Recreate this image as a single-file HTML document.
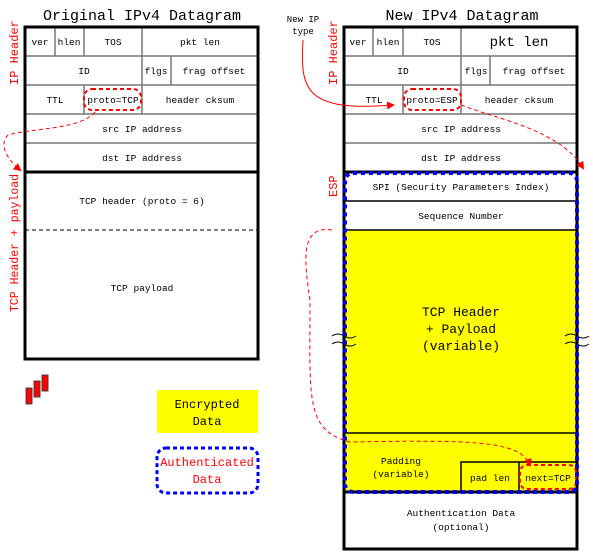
<!DOCTYPE html>
<html><head><style>body{margin:0;background:#fff}svg{display:block}text{font-family:"Liberation Mono","DejaVu Sans Mono",monospace;font-size:9.5px;fill:#000}</style></head><body>
<svg width="593" height="552" viewBox="0 0 593 552" xmlns="http://www.w3.org/2000/svg">
<defs><marker id="ar" markerWidth="8" markerHeight="8" refX="6" refY="4" orient="auto" markerUnits="userSpaceOnUse"><path d="M0,0 L8,4 L0,8 Z" fill="red"/></marker></defs>
<!-- LEFT -->
<text x="142" y="20" text-anchor="middle" style="font-size:15px">Original IPv4 Datagram</text>
<g stroke="#777" stroke-width="1.5" fill="none">
<line x1="25" y1="56" x2="258" y2="56"/><line x1="25" y1="85" x2="258" y2="85"/><line x1="25" y1="114" x2="258" y2="114"/><line x1="25" y1="143" x2="258" y2="143"/>
<line x1="55" y1="27" x2="55" y2="56"/><line x1="84" y1="27" x2="84" y2="56"/><line x1="142" y1="27" x2="142" y2="114"/><line x1="171" y1="56" x2="171" y2="85"/><line x1="84" y1="85" x2="84" y2="114"/>
</g>
<line x1="25" y1="230" x2="258" y2="230" stroke="#000" stroke-dasharray="4,3"/>
<rect x="25" y="27" width="233" height="332" fill="none" stroke="#000" stroke-width="3"/>
<line x1="25" y1="172" x2="258" y2="172" stroke="#000" stroke-width="3"/>
<g text-anchor="middle">
<text x="40" y="45">ver</text><text x="69" y="45">hlen</text><text x="113" y="45">TOS</text><text x="200" y="45">pkt len</text>
<text x="84" y="74">ID</text><text x="156" y="74">flgs</text><text x="214" y="74">frag offset</text>
<text x="55" y="103">TTL</text><text x="113" y="103">proto=TCP</text><text x="200" y="103">header cksum</text>
<text x="142" y="132">src IP address</text><text x="142" y="161">dst IP address</text>
<text x="142" y="204">TCP header (proto = 6)</text><text x="142" y="291">TCP payload</text>
</g>
<rect x="84" y="89" width="57" height="21" rx="8" fill="none" stroke="red" stroke-width="2" stroke-dasharray="4,3"/>
<text transform="translate(18,85) rotate(-90)" style="fill:red;font-size:12px">IP Header</text>
<text transform="translate(18,312) rotate(-90)" style="fill:red;font-size:11.5px">TCP Header + payload</text>
<path d="M95,112 C80,130 30,128 8,135 C-2,145 8,160 20,170" fill="none" stroke="red" stroke-dasharray="4,3" marker-end="url(#ar)"/>
<!-- legend -->
<g fill="red" stroke="#444"><rect x="26" y="388" width="6" height="16"/><rect x="34" y="381" width="6" height="16"/><rect x="42" y="375" width="6" height="16"/></g>
<rect x="157" y="390" width="101" height="43" fill="#ff0"/>
<text x="207" y="408" text-anchor="middle" style="font-size:12px">Encrypted</text><text x="207" y="425" text-anchor="middle" style="font-size:12px">Data</text>
<rect x="157" y="448" width="101" height="45" rx="9" fill="none" stroke="#00f" stroke-width="3" stroke-dasharray="4,3"/>
<text x="207" y="466" text-anchor="middle" style="font-size:12px;fill:red">Authenticated</text><text x="207" y="483" text-anchor="middle" style="font-size:12px;fill:red">Data</text>
<!-- RIGHT -->
<text x="462" y="20" text-anchor="middle" style="font-size:15px">New IPv4 Datagram</text>
<rect x="344" y="230" width="233" height="262" fill="#ff0"/>
<g stroke="#777" stroke-width="1.5" fill="none">
<line x1="344" y1="56" x2="577" y2="56"/><line x1="344" y1="85" x2="577" y2="85"/><line x1="344" y1="114" x2="577" y2="114"/><line x1="344" y1="143" x2="577" y2="143"/>
<line x1="373" y1="27" x2="373" y2="56"/><line x1="403" y1="27" x2="403" y2="56"/><line x1="461" y1="27" x2="461" y2="114"/><line x1="490" y1="56" x2="490" y2="85"/><line x1="403" y1="85" x2="403" y2="114"/>
</g>
<g stroke="#000" stroke-width="1.5" fill="none">
<line x1="344" y1="201" x2="577" y2="201"/><line x1="344" y1="230" x2="577" y2="230"/><line x1="344" y1="433" x2="577" y2="433"/>
<polyline points="461,492 461,462 577,462"/><line x1="519" y1="462" x2="519" y2="492"/>
</g>
<rect x="344" y="27" width="233" height="522" fill="none" stroke="#000" stroke-width="3"/>
<line x1="344" y1="172" x2="577" y2="172" stroke="#000" stroke-width="3"/>
<line x1="344" y1="492" x2="577" y2="492" stroke="#000" stroke-width="3"/>
<g text-anchor="middle">
<text x="358" y="45">ver</text><text x="388" y="45">hlen</text><text x="432" y="45">TOS</text><text x="519" y="46" style="font-size:14px">pkt len</text>
<text x="403" y="74">ID</text><text x="476" y="74">flgs</text><text x="534" y="74">frag offset</text>
<text x="374" y="103">TTL</text><text x="432" y="103">proto=ESP</text><text x="519" y="103">header cksum</text>
<text x="461" y="132">src IP address</text><text x="461" y="161">dst IP address</text>
<text x="461" y="190">SPI (Security Parameters Index)</text><text x="461" y="219">Sequence Number</text>
<text x="461" y="316" style="font-size:13px">TCP Header</text><text x="461" y="333" style="font-size:13px">+ Payload</text><text x="461" y="350" style="font-size:13px">(variable)</text>
<text x="401" y="464">Padding</text><text x="401" y="477">(variable)</text>
<text x="490" y="481">pad len</text><text x="548" y="481">next=TCP</text>
<text x="461" y="516">Authentication Data</text><text x="461" y="530">(optional)</text>
</g>
<rect x="520" y="465" width="56" height="24" rx="7" fill="none" stroke="red" stroke-width="2" stroke-dasharray="4,3"/>
<rect x="404" y="89" width="57" height="21" rx="8" fill="none" stroke="red" stroke-width="2" stroke-dasharray="4,3"/>
<rect x="345" y="173" width="232" height="319" rx="8" fill="none" stroke="#00f" stroke-width="4" stroke-dasharray="4,4"/>
<text transform="translate(337,85) rotate(-90)" style="fill:red;font-size:12px">IP Header</text>
<text transform="translate(337,197) rotate(-90)" style="fill:red;font-size:12px">ESP</text>
<text x="303" y="22" text-anchor="middle" style="font-size:9px">New IP</text><text x="303" y="34" text-anchor="middle" style="font-size:9px">type</text>
<path d="M303,40 C300,90 305,112 393,105" fill="none" stroke="red" marker-end="url(#ar)"/>
<path d="M461,105 C500,120 560,130 583,168" fill="none" stroke="red" stroke-dasharray="4,3" marker-end="url(#ar)"/>
<path d="M332,230 C300,225 304,260 310,300 C310,400 305,430 350,442 C470,440 520,440 530,465" fill="none" stroke="red" stroke-dasharray="4,3" marker-end="url(#ar)"/>
<g fill="none" stroke="#000"><path d="M332,336 q6,-4 12,0 q6,4 12,0"/><path d="M332,344 q6,-4 12,0 q6,4 12,0"/><path d="M565,336 q6,-4 12,0 q6,4 12,0"/><path d="M565,344 q6,-4 12,0 q6,4 12,0"/></g>
</svg>
</body></html>
